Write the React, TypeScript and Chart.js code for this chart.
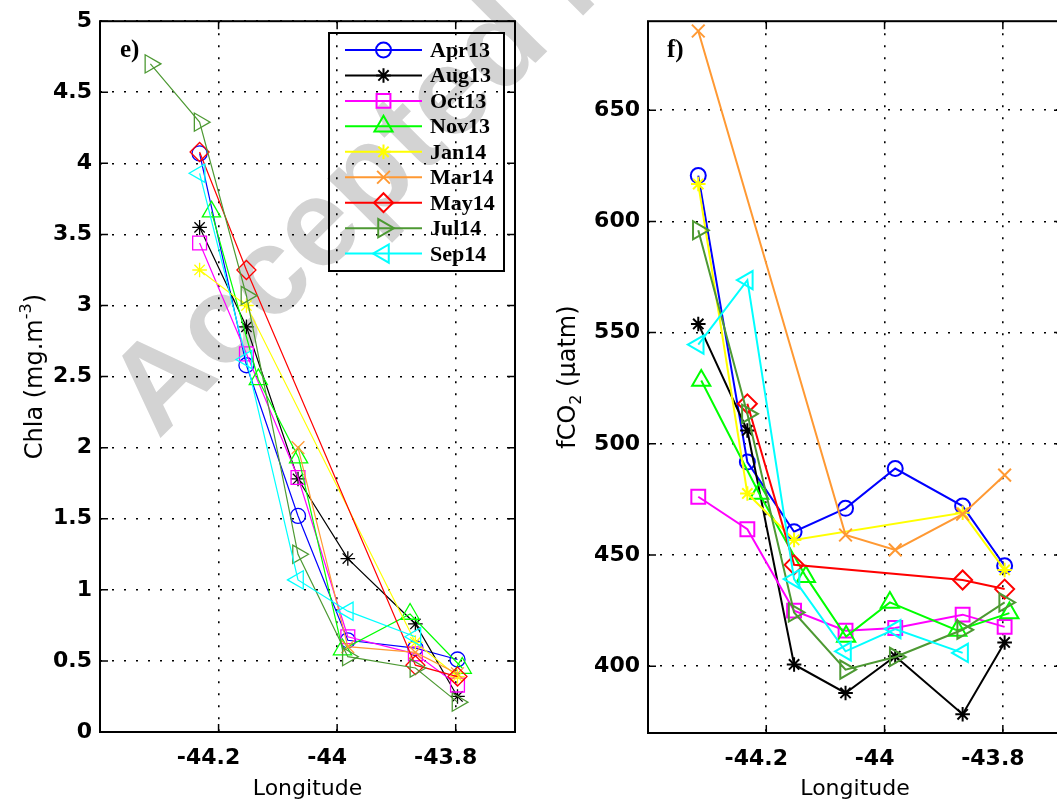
import React, { useEffect, useRef } from 'react';
import { Chart, registerables } from 'chart.js';

Chart.register(...registerables);

// ---------------- data ----------------
const seriesNames = ['Apr13', 'Aug13', 'Oct13', 'Nov13', 'Jan14', 'Mar14', 'May14', 'Jul14', 'Sep14'];

// station longitudes (7 stations along the transect)
const lonStations = [-44.315, -44.232, -44.153, -44.066, -43.982, -43.868, -43.797];
const lonNov13 = [-44.31, -44.212, -44.133, -44.065, -43.991, -43.877, -43.789];

// Chla (mg.m-3), null = not sampled
const chlaApr13 = [null, 4.07, 2.58, 1.52, 0.645, 0.59, 0.51];
const chlaAug13 = [null, 3.55, 2.85, 1.78, 1.22, 0.76, 0.25];
const chlaOct13 = [null, 3.44, 2.66, 1.79, 0.67, 0.55, 0.33];
const chlaNov13 = [null, 3.66, 2.48, 1.93, 0.58, 0.83, 0.45];
const chlaJan14 = [null, 3.25, 3.0, null, null, 0.63, 0.39];
const chlaMar14 = [null, null, null, 2.0, 0.6, 0.56, 0.41];
const chlaMay14 = [null, 4.08, 3.25, null, null, 0.47, 0.39];
const chlaJul14 = [4.7, 4.29, 3.07, 1.25, 0.53, 0.45, 0.21];
const chlaSep14 = [null, 3.93, 2.62, 1.07, 0.85, 0.67, null];

// fCO2 (uatm)
const fco2Apr13 = [620.6, 491.8, 460.5, 471, 488.9, 472, 445.2];
const fco2Aug13 = [553.9, 506, 400.8, 388, 404.5, 378.4, 410.7];
const fco2Oct13 = [476.2, 461.6, 425, 416, 417.2, 423.2, 417.7];
const fco2Nov13 = [528.5, 477.7, 440.3, 413.4, 428.7, 416.1, 423.9];
const fco2Jan14 = [616.8, 477.7, 456.8, null, null, 469, 443.3];
const fco2Mar14 = [685.6, null, null, 459, 452.3, 468.4, 485.9];
const fco2May14 = [null, 518, 445.6, null, null, 438.8, 434.7];
const fco2Jul14 = [596, 513.5, 424.2, 398.5, 404.2, 416.4, 428.7];
const fco2Sep14 = [544.6, 573.6, 439.2, 406.7, 416.7, 406, null];

// tick values
const xTickValues = [-44.2, -44, -43.8];
const chlaTickValues = [0, 0.5, 1, 1.5, 2, 2.5, 3, 3.5, 4, 4.5, 5];
const fco2TickValues = [400, 450, 500, 550, 600, 650];

// ---------------- styles ----------------
const seriesLon = [lonStations, lonStations, lonStations, lonNov13, lonStations, lonStations, lonStations, lonStations, lonStations];
const chlaSeries = [chlaApr13, chlaAug13, chlaOct13, chlaNov13, chlaJan14, chlaMar14, chlaMay14, chlaJul14, chlaSep14];
const fco2Series = [fco2Apr13, fco2Aug13, fco2Oct13, fco2Nov13, fco2Jan14, fco2Mar14, fco2May14, fco2Jul14, fco2Sep14];

const seriesColors = ['#0000ff', '#000000', '#ff00ff', '#00ff00', '#ffff00', '#ff9933', '#ff0000', '#4d9933', '#00ffff'];
const seriesMarkers = ['circle', 'star', 'rect', 'triangle', 'star', 'crossRot', 'rectRot', 'triangle', 'triangle'];
const seriesRotations = [0, 0, 0, 0, 0, 0, 0, 90, -90];
const seriesRadii = [7.5, 7.3, 9.8, 10.5, 7.3, 9, 9.5, 10.5, 10.5];

const TICK_FONT = { family: '"DejaVu Sans", sans-serif', size: 22, weight: 'bold' as const };

type Part = { t: string; s: number; dy: number };

interface PanelSpec {
  key: string;
  label: string;
  values: (number | null)[][];
  yMin: number;
  yMax: number;
  yTicks: number[];
  yAxisWidth: number;
  padTop: number;
  padRight: number;
  xAxisHeight: number;
  lineWidth: number;
  markerWidth: number;
  labelX: number;
  titleX: number;
  titleParts: Part[];
  legend: boolean;
}

const leftPanel: PanelSpec = {
  key: 'e',
  label: 'e)',
  values: chlaSeries,
  yMin: 0,
  yMax: 5,
  yTicks: chlaTickValues,
  yAxisWidth: 100,
  padTop: 17,
  padRight: 25,
  xAxisHeight: 75,
  lineWidth: 1.2,
  markerWidth: 1.3,
  labelX: 120,
  titleX: 42,
  titleParts: [
    { t: 'Chla (mg.m', s: 24, dy: 0 },
    { t: '-3', s: 16, dy: -11 },
    { t: ')', s: 24, dy: 0 },
  ],
  legend: true,
};

const rightPanel: PanelSpec = {
  key: 'f',
  label: 'f)',
  values: fco2Series,
  yMin: 370,
  yMax: 690,
  yTicks: fco2TickValues,
  yAxisWidth: 108,
  padTop: 19,
  padRight: 18,
  xAxisHeight: 74,
  lineWidth: 2,
  markerWidth: 2,
  labelX: 127,
  titleX: 35,
  titleParts: [
    { t: 'fCO', s: 24, dy: 0 },
    { t: '2', s: 16, dy: 6 },
    { t: ' (\u00b5atm)', s: 24, dy: 0 },
  ],
  legend: false,
};

function drawMarker(ctx: CanvasRenderingContext2D, style: string, x: number, y: number, r: number, rotDeg: number, color: string, lw: number) {
  ctx.save();
  ctx.strokeStyle = color;
  ctx.lineWidth = lw;
  ctx.setLineDash([]);
  ctx.beginPath();
  let rad = (rotDeg * Math.PI) / 180;
  const c45 = Math.SQRT1_2 * r;
  switch (style) {
    case 'circle':
      ctx.arc(x, y, r, 0, Math.PI * 2);
      break;
    case 'rect': {
      const s = Math.SQRT1_2 * r;
      ctx.rect(x - s, y - s, 2 * s, 2 * s);
      break;
    }
    case 'rectRot':
      ctx.moveTo(x, y - r);
      ctx.lineTo(x + r, y);
      ctx.lineTo(x, y + r);
      ctx.lineTo(x - r, y);
      ctx.closePath();
      break;
    case 'triangle':
      ctx.moveTo(x + Math.sin(rad) * r, y - Math.cos(rad) * r);
      rad += (2 * Math.PI) / 3;
      ctx.lineTo(x + Math.sin(rad) * r, y - Math.cos(rad) * r);
      rad += (2 * Math.PI) / 3;
      ctx.lineTo(x + Math.sin(rad) * r, y - Math.cos(rad) * r);
      ctx.closePath();
      break;
    case 'star':
      ctx.moveTo(x - r, y); ctx.lineTo(x + r, y);
      ctx.moveTo(x, y - r); ctx.lineTo(x, y + r);
      ctx.moveTo(x - c45, y - c45); ctx.lineTo(x + c45, y + c45);
      ctx.moveTo(x - c45, y + c45); ctx.lineTo(x + c45, y - c45);
      break;
    case 'crossRot':
      ctx.moveTo(x - c45, y - c45); ctx.lineTo(x + c45, y + c45);
      ctx.moveTo(x - c45, y + c45); ctx.lineTo(x + c45, y - c45);
      break;
  }
  ctx.stroke();
  ctx.restore();
}

function makeDecor(panel: PanelSpec) {
  return {
    id: 'decor' + panel.key,
    afterDraw(chart: any) {
      const { ctx, chartArea: a, scales } = chart;
      const xs = scales.x;
      const ys = scales.y;
      ctx.save();
      ctx.setLineDash([]);
      ctx.strokeStyle = '#000';
      // inward tick marks
      ctx.lineWidth = 1.5;
      ctx.beginPath();
      xTickValues.forEach((v) => {
        const px = xs.getPixelForValue(v);
        ctx.moveTo(px, a.bottom);
        ctx.lineTo(px, a.bottom - 8);
        ctx.moveTo(px, a.top);
        ctx.lineTo(px, a.top + 8);
      });
      panel.yTicks.forEach((v) => {
        const py = ys.getPixelForValue(v);
        ctx.moveTo(a.left, py);
        ctx.lineTo(a.left + 8, py);
        ctx.moveTo(a.right, py);
        ctx.lineTo(a.right - 8, py);
      });
      ctx.stroke();
      // axes box
      ctx.lineWidth = 2;
      ctx.strokeRect(a.left, a.top, a.right - a.left, a.bottom - a.top);

      // x title
      ctx.fillStyle = '#000';
      ctx.font = '22px "DejaVu Sans", sans-serif';
      ctx.textAlign = 'center';
      ctx.textBaseline = 'alphabetic';
      ctx.fillText('Longitude', (a.left + a.right) / 2, 795);

      // y title (rotated, with sub/superscript)
      ctx.save();
      ctx.translate(panel.titleX, (a.top + a.bottom) / 2);
      ctx.rotate(-Math.PI / 2);
      ctx.textAlign = 'left';
      let total = 0;
      const widths = panel.titleParts.map((p) => {
        ctx.font = `${p.s}px "DejaVu Sans", sans-serif`;
        const w = ctx.measureText(p.t).width;
        total += w;
        return w;
      });
      let cx = -total / 2;
      panel.titleParts.forEach((p, i) => {
        ctx.font = `${p.s}px "DejaVu Sans", sans-serif`;
        ctx.fillText(p.t, cx, p.dy);
        cx += widths[i];
      });
      ctx.restore();

      // panel label
      ctx.font = 'bold 25px "Liberation Serif", serif';
      ctx.textAlign = 'left';
      ctx.fillText(panel.label, panel.labelX, 57);

      // legend
      if (panel.legend) {
        ctx.lineWidth = 2;
        ctx.strokeStyle = '#000';
        ctx.strokeRect(329, 33, 175, 238);
        seriesNames.forEach((name, i) => {
          const y = 50 + i * 25.45;
          ctx.strokeStyle = seriesColors[i];
          ctx.lineWidth = 2;
          ctx.beginPath();
          ctx.moveTo(345, y);
          ctx.lineTo(422, y);
          ctx.stroke();
          drawMarker(ctx, seriesMarkers[i], 383.5, y, seriesRadii[i], seriesRotations[i], seriesColors[i], 2);
          ctx.fillStyle = '#000';
          ctx.font = 'bold 22px "Liberation Serif", serif';
          ctx.textAlign = 'left';
          ctx.fillText(name, 430, y + 7);
        });
      }
      ctx.restore();
    },
  };
}

function buildConfig(panel: PanelSpec): any {
  const n = seriesNames.length;
  const datasets = seriesNames.map((name, i) => {
    const lon = seriesLon[i];
    const vals = panel.values[i];
    const data = lon
      .map((x, k) => ({ x, y: vals[k] }))
      .filter((p) => p.y !== null && p.y !== undefined);
    return {
      label: name,
      data,
      borderColor: seriesColors[i],
      backgroundColor: 'rgba(0,0,0,0)',
      borderWidth: panel.lineWidth,
      pointStyle: seriesMarkers[i],
      rotation: seriesRotations[i],
      pointRotation: seriesRotations[i],
      pointRadius: seriesRadii[i],
      pointHoverRadius: seriesRadii[i],
      pointBorderWidth: panel.markerWidth,
      pointBorderColor: seriesColors[i],
      pointBackgroundColor: 'rgba(0,0,0,0)',
      tension: 0,
      fill: false,
      clip: false,
      order: n - i,
    };
  });

  const yTicks = panel.yTicks;
  return {
    type: 'line',
    data: { datasets },
    options: {
      animation: false,
      responsive: false,
      maintainAspectRatio: false,
      events: [],
      layout: { padding: { top: panel.padTop, right: panel.padRight, left: 0, bottom: 0 } },
      plugins: {
        legend: { display: false },
        tooltip: { enabled: false },
        title: { display: false },
      },
      scales: {
        x: {
          type: 'linear',
          min: -44.4,
          max: -43.7,
          afterBuildTicks: (s: any) => {
            s.ticks = xTickValues.map((v) => ({ value: v }));
          },
          afterFit: (s: any) => {
            s.height = panel.xAxisHeight;
          },
          grid: { color: '#000', lineWidth: 1.6, drawTicks: false },
          border: { display: false, dash: [2, 10] },
          ticks: {
            padding: 13,
            labelOffset: -10,
            font: TICK_FONT,
            color: '#000',
            autoSkip: false,
            maxRotation: 0,
            callback: (v: any) => String(v),
          },
        },
        y: {
          type: 'linear',
          min: panel.yMin,
          max: panel.yMax,
          afterBuildTicks: (s: any) => {
            s.ticks = yTicks.map((v) => ({ value: v }));
          },
          afterFit: (s: any) => {
            s.width = panel.yAxisWidth;
          },
          grid: { color: '#000', lineWidth: 1.6, drawTicks: false },
          border: { display: false, dash: [2, 10] },
          ticks: {
            padding: 8,
            font: TICK_FONT,
            color: '#000',
            autoSkip: false,
            callback: (v: any) => String(v),
          },
        },
      },
    },
    plugins: [makeDecor(panel)],
  };
}

export default function App() {
  const leftRef = useRef<HTMLCanvasElement>(null);
  const rightRef = useRef<HTMLCanvasElement>(null);

  useEffect(() => {
    const c1 = new Chart(leftRef.current as HTMLCanvasElement, buildConfig(leftPanel));
    const c2 = new Chart(rightRef.current as HTMLCanvasElement, buildConfig(rightPanel));
    return () => {
      c1.destroy();
      c2.destroy();
    };
  }, []);

  return (
    <div
      style={{
        position: 'absolute',
        left: 0,
        top: 0,
        width: 1057,
        height: 807,
        overflow: 'hidden',
        background: '#ffffff',
      }}
    >
      <div
        style={{
          position: 'absolute',
          left: 84,
          top: 366,
          transform: 'rotate(-45deg)',
          transformOrigin: '0 0',
          font: 'bold 124px "Liberation Sans", Arial, sans-serif',
          lineHeight: 1,
          color: '#d3d3d3',
          whiteSpace: 'nowrap',
        }}
      >
        Accepted Manuscript
      </div>
      <canvas
        ref={leftRef}
        width={540}
        height={807}
        style={{ position: 'absolute', left: 0, top: 0, width: 540, height: 807 }}
      />
      <canvas
        ref={rightRef}
        width={540}
        height={807}
        style={{ position: 'absolute', left: 540, top: 0, width: 540, height: 807 }}
      />
    </div>
  );
}
